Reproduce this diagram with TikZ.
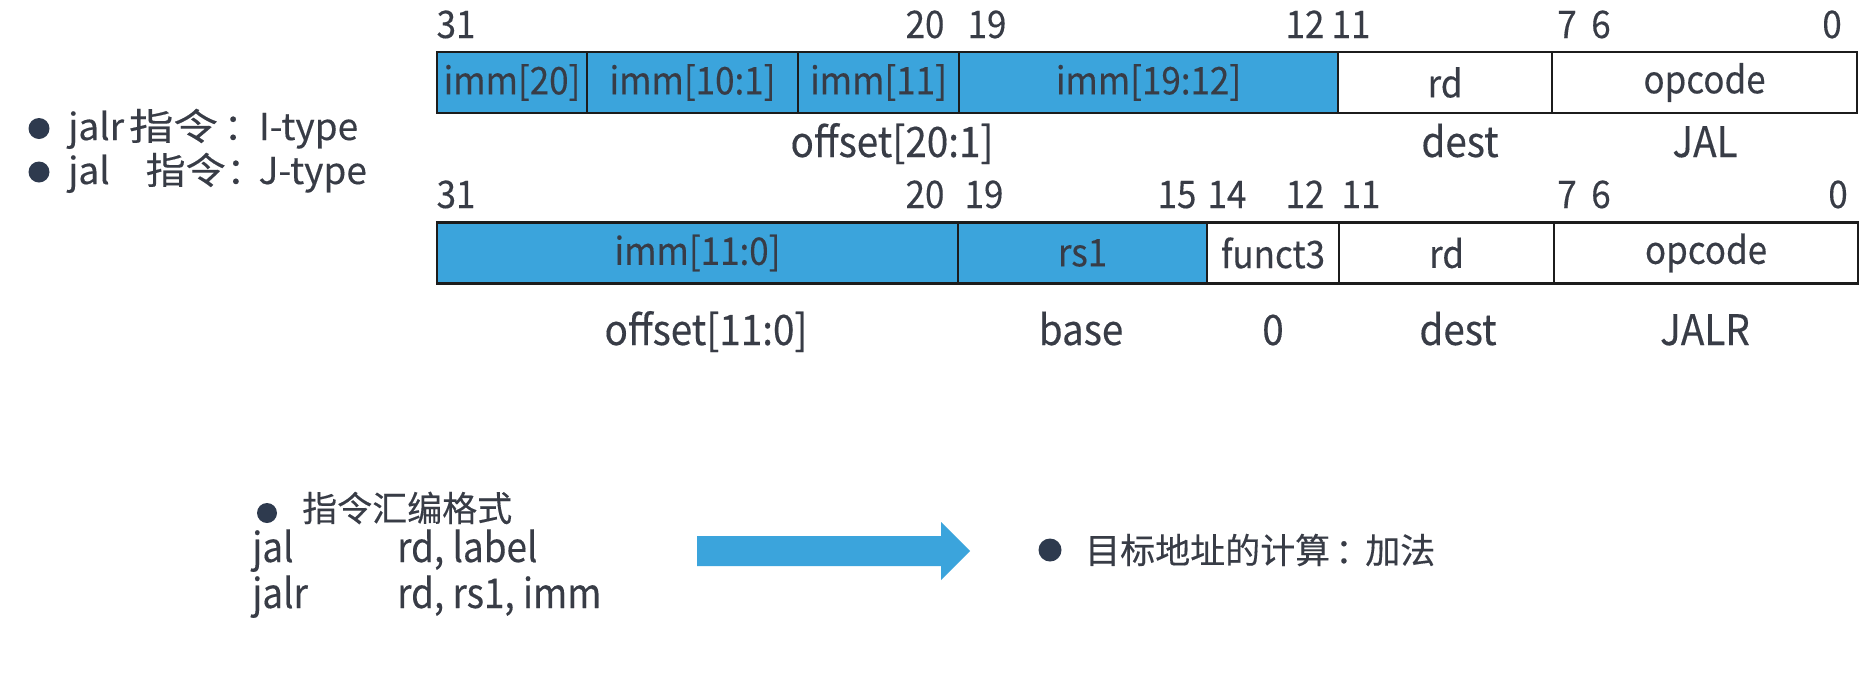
\documentclass[tikz,border=0pt]{standalone}
\usepackage{fontspec}
\usepackage{graphicx}
\setmainfont{Noto Sans CJK SC}[FakeBold=0.3]
\newfontfamily\narrowfont{Noto Sans CJK SC}[FakeStretch=0.92,FakeBold=0.3]
\newfontfamily\asmfont{Noto Sans CJK SC}[FakeStretch=0.9,FakeBold=0.3]
\definecolor{cellblue}{HTML}{3BA4DC}
\definecolor{txt}{HTML}{383C46}
\definecolor{dot}{HTML}{2E3A4E}
\definecolor{frame}{HTML}{1C1C1C}
\begin{document}
\begin{tikzpicture}[x=1pt,y=-1pt,
  cell/.style={draw=frame, line width=2.4pt, minimum height=61pt, inner sep=0pt, outer sep=0pt,
    anchor=west, text=txt, font=\narrowfont\fontsize{38}{40}\selectfont},
  bcell/.style={cell, fill=cellblue},
  wcell/.style={cell, fill=white},
  bit/.style={anchor=base, inner sep=0pt, text=txt, font=\narrowfont\fontsize{38}{40}\selectfont},
  sub/.style={anchor=base, inner sep=0pt, text=txt, font=\narrowfont\fontsize{42}{44}\selectfont},
  dotb/.style={circle, fill=dot, inner sep=0pt, minimum size=21pt},
  note/.style={anchor=base west, inner sep=0pt, text=txt, font=\fontsize{37}{40}\selectfont},
  cjknote/.style={anchor=west, inner sep=0pt, text=txt, font=\fontsize{35}{40}\selectfont},
  asm/.style={anchor=base west, inner sep=0pt, text=txt, font=\asmfont\fontsize{41}{46}\selectfont},
  flow/.style={fill=cellblue}
]
\useasboundingbox[fill=white] (0,0) rectangle (1870,686);

% ---- JAL (J-type) ----
\node[bit] (b31a) at (456,38) {31};
\node[bit] (b20a) at (925,38) {20};
\node[bit] (b19a) at (987,38) {19};
\node[bit] (b12a) at (1305,38) {12};
\node[bit] (b11a) at (1351,38) {11};
\node[bit] (b7a)  at (1567,38) {7};
\node[bit] (b6a)  at (1601,38) {6};
\node[bit] (b0a)  at (1832,38) {0};

\node[bcell, minimum width=150pt] (j1) at (437,82.5) {imm[20]};
\node[bcell, minimum width=211pt] (j2) at (j1.east) {imm[10:1]};
\node[bcell, minimum width=161pt] (j3) at (j2.east) {imm[11]};
\node[bcell, minimum width=379pt] (j4) at (j3.east) {imm[19:12]};
\node[wcell, minimum width=214pt] (j5) at (j4.east) {rd};
\node[wcell, minimum width=305pt] (j6) at (j5.east) {opcode};

\node[sub] (offa) at (892,157) {offset[20:1]};
\node[sub] (desta) at (1460,157) {dest};
\node[sub] (jal) at (1705,157) {JAL};

% ---- JALR (I-type) ----
\node[bit] (b31b) at (456,208) {31};
\node[bit] (b20b) at (925,208) {20};
\node[bit] (b19b) at (984,208) {19};
\node[bit] (b15b) at (1177,208) {15};
\node[bit] (b14b) at (1227,208) {14};
\node[bit] (b12b) at (1305,208) {12};
\node[bit] (b11b) at (1361,208) {11};
\node[bit] (b7b)  at (1567,208) {7};
\node[bit] (b6b)  at (1601,208) {6};
\node[bit] (b0b)  at (1838,208) {0};

\node[bcell, minimum width=521pt] (i1) at (437,253) {imm[11:0]};
\node[bcell, minimum width=249pt] (i2) at (i1.east) {rs1};
\node[wcell, minimum width=132pt] (i3) at (i2.east) {funct3};
\node[wcell, minimum width=215pt] (i4) at (i3.east) {rd};
\node[wcell, minimum width=304pt] (i5) at (i4.east) {opcode};

\node[sub] (offb) at (706,345) {offset[11:0]};
\node[sub] (baseb) at (1081,345) {base};
\node[sub] (zerob) at (1273,345) {0};
\node[sub] (destb) at (1458,345) {dest};
\node[sub] (jalr) at (1705,345) {JALR};

% ---- left bullets ----
\node[dotb] (d1) at (39,128.5) {};
\node[note] (t1) at (68,140) {jalr\kern5pt\scalebox{1.2}[1]{指令}\kern6pt：\kern-2pt I-type};
\node[dotb] (d2) at (39,172) {};
\node[note] (t2) at (68,184) {jal\kern36pt\scalebox{1.08}[1]{指令}\kern1pt：\kern-5pt J-type};

% ---- assembly format ----
\node[dotb, minimum size=20pt] (d3) at (267,513) {};
\node[cjknote] (t3) at (302,508) {指令汇编格式};
\node[asm] (asm1) at (252,562) {\makebox[145pt][l]{jal}rd, label};
\node[asm] (asm2) at (252,608) {\makebox[145pt][l]{jalr}rd, rs1, imm};

% ---- arrow ----
\fill[flow] (697,536) -- (941,536) -- (941,522) -- (970,551) -- (941,580) -- (941,566) -- (697,566) -- cycle;

% ---- target address ----
\node[dotb, minimum size=23pt] (d4) at (1050,550) {};
\node[cjknote] (t4) at (1085,550) {目标地址的计算\kern5pt：\kern-5pt 加法};
\end{tikzpicture}
\end{document}
